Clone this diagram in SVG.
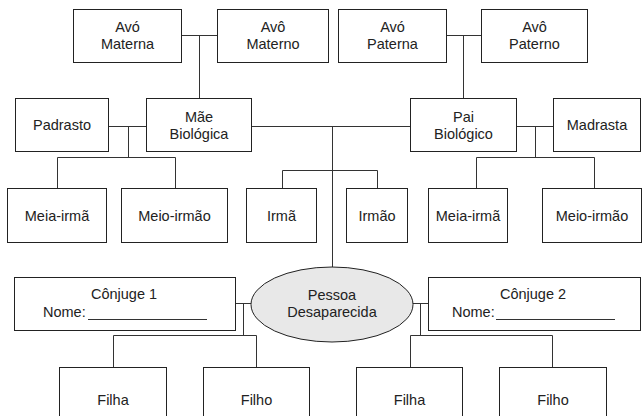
<svg xmlns="http://www.w3.org/2000/svg" width="643" height="416" viewBox="0 0 643 416">
<style>
.b{fill:#fff;stroke:#222;stroke-width:1}
.e{fill:#e8e8e8;stroke:#222;stroke-width:1}
.t{font-family:"Liberation Sans",Arial,sans-serif;font-size:14.5px;fill:#222;text-anchor:middle}
.l{font-family:"Liberation Sans",Arial,sans-serif;font-size:14.5px;fill:#222}
.c{fill:none;stroke:#333;stroke-width:1}
</style>
<rect width="643" height="416" fill="#fff"/>
<g id="connectors">
<path class="c" d="M182 35.5H217M199.5 35.5V98"/>
<path class="c" d="M447 35.5H481M463.5 35.5V98"/>
<path class="c" d="M109 126.5H146M128.5 126.5V157.5M57.5 157.5H175.5M57.5 157.5V188M175.5 157.5V188"/>
<path class="c" d="M517 126.5H553M535.5 126.5V157.5M476.5 157.5H594.5M476.5 157.5V188M594.5 157.5V188"/>
<path class="c" d="M252 126.5H410M332.5 126.5V267"/>
<path class="c" d="M282.5 170.5H377.5M282.5 170.5V188M377.5 170.5V188"/>
<path class="c" d="M236 303.5H251M243.5 303.5V335.5M113.5 335.5H256.5M113.5 335.5V367M256.5 335.5V367"/>
<path class="c" d="M413 303.5H428M420.5 303.5V335.5M410.5 335.5H552.5M410.5 335.5V367M552.5 335.5V367"/>
</g>
<g id="avo-materna"><rect class="b" x="73.5" y="9.5" width="108" height="53"/><text class="t" x="127.5" y="32">Avó</text><text class="t" x="127.5" y="49">Materna</text></g>
<g id="avo-materno"><rect class="b" x="217.5" y="9.5" width="111" height="53"/><text class="t" x="273" y="32">Avô</text><text class="t" x="273" y="49">Materno</text></g>
<g id="avo-paterna"><rect class="b" x="338.5" y="9.5" width="108" height="53"/><text class="t" x="392.5" y="32">Avó</text><text class="t" x="392.5" y="49">Paterna</text></g>
<g id="avo-paterno"><rect class="b" x="481.5" y="9.5" width="106" height="53"/><text class="t" x="534.5" y="32">Avô</text><text class="t" x="534.5" y="49">Paterno</text></g>
<g id="padrasto"><rect class="b" x="15.5" y="98.5" width="93" height="53"/><text class="t" x="62" y="130">Padrasto</text></g>
<g id="mae"><rect class="b" x="146.5" y="98.5" width="105" height="53"/><text class="t" x="199" y="122">Mãe</text><text class="t" x="199" y="139">Biológica</text></g>
<g id="pai"><rect class="b" x="410.5" y="98.5" width="106" height="53"/><text class="t" x="463.5" y="122">Pai</text><text class="t" x="463.5" y="139">Biológico</text></g>
<g id="madrasta"><rect class="b" x="553.5" y="98.5" width="87" height="53"/><text class="t" x="597" y="130">Madrasta</text></g>
<g id="meia-irma-1"><rect class="b" x="7.5" y="188.5" width="99" height="54"/><text class="t" x="57" y="221">Meia-irmã</text></g>
<g id="meio-irmao-1"><rect class="b" x="121.5" y="188.5" width="106" height="54"/><text class="t" x="174.5" y="221">Meio-irmão</text></g>
<g id="irma"><rect class="b" x="246.5" y="188.5" width="70" height="54"/><text class="t" x="281.5" y="221">Irmã</text></g>
<g id="irmao"><rect class="b" x="346.5" y="188.5" width="61" height="54"/><text class="t" x="377" y="221">Irmão</text></g>
<g id="meia-irma-2"><rect class="b" x="428.5" y="188.5" width="79" height="54"/><text class="t" x="468" y="221">Meia-irmã</text></g>
<g id="meio-irmao-2"><rect class="b" x="542.5" y="188.5" width="99" height="54"/><text class="t" x="592" y="221">Meio-irmão</text></g>
<g id="pessoa"><ellipse class="e" cx="332" cy="304.5" rx="81" ry="37.5"/><text class="t" x="332" y="300">Pessoa</text><text class="t" x="332" y="317">Desaparecida</text></g>
<g id="conjuge-1"><rect class="b" x="14.5" y="277.5" width="221" height="53"/><text class="t" x="124" y="299">Cônjuge 1</text><text class="l" x="43" y="317">Nome:</text><line class="c" x1="88" y1="319.5" x2="207" y2="319.5"/></g>
<g id="conjuge-2"><rect class="b" x="428.5" y="277.5" width="212" height="53"/><text class="t" x="533" y="299">Cônjuge 2</text><text class="l" x="452" y="317">Nome:</text><line class="c" x1="496" y1="319.5" x2="615" y2="319.5"/></g>
<g id="filha-1"><rect class="b" x="59.5" y="367.5" width="107" height="70"/><text class="t" x="113" y="405">Filha</text></g>
<g id="filho-1"><rect class="b" x="203.5" y="367.5" width="106" height="70"/><text class="t" x="256.5" y="405">Filho</text></g>
<g id="filha-2"><rect class="b" x="356.5" y="367.5" width="106" height="70"/><text class="t" x="409.5" y="405">Filha</text></g>
<g id="filho-2"><rect class="b" x="499.5" y="367.5" width="107" height="70"/><text class="t" x="553" y="405">Filho</text></g>
</svg>
